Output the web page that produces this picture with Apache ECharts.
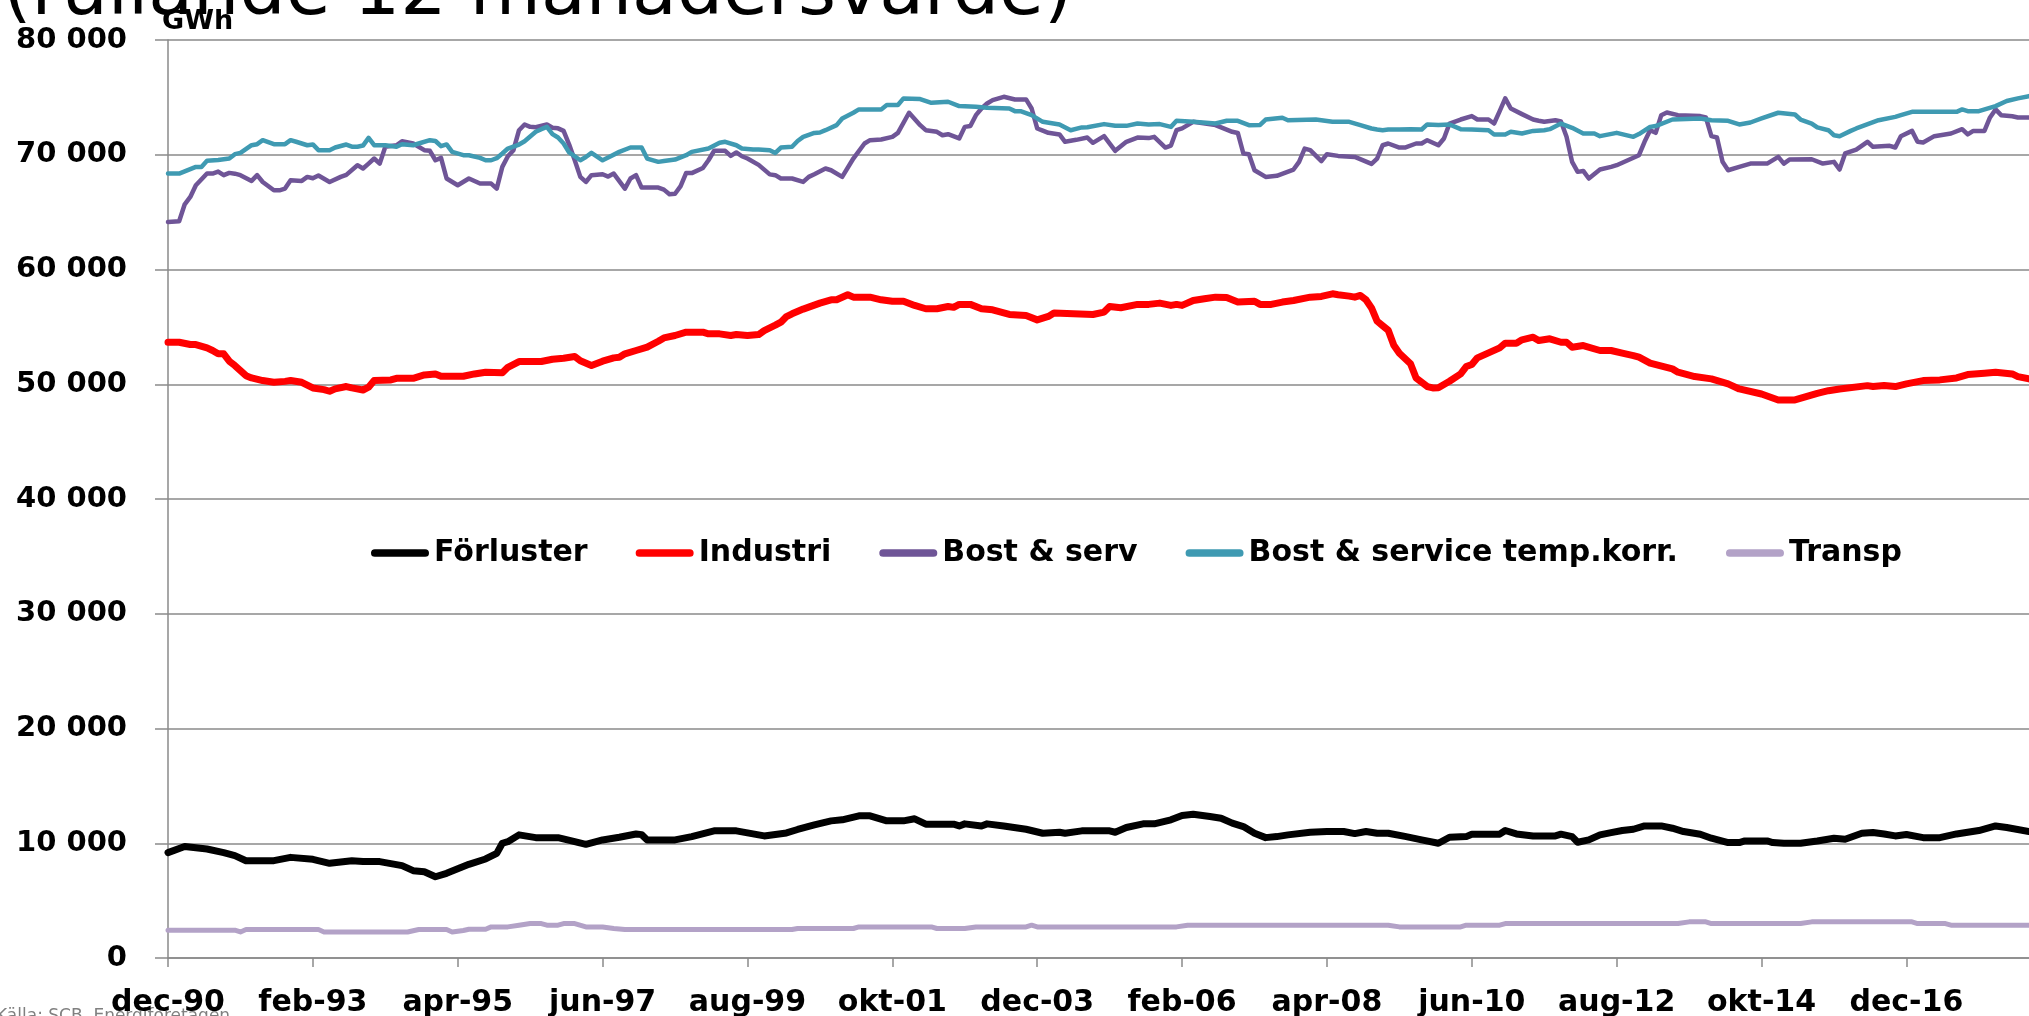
<!DOCTYPE html>
<html>
<head>
<meta charset="utf-8">
<script src="https://cdn.jsdelivr.net/npm/echarts@6.0.0/dist/echarts.min.js"></script>
<style>
    html, body { margin: 0; padding: 0; background: #fff; }
    #chart { width: 2029px; height: 1016px; }
</style>
</head>
<body>
<div id="chart"></div>
<script>
// monthly categories, dec-90 .. okt-18
const monthNames = ['jan', 'feb', 'mar', 'apr', 'maj', 'jun', 'jul', 'aug', 'sep', 'okt', 'nov', 'dec'];
const firstYear  = 1990;
const firstMonth = 11;   // december
const monthCount = 335;

const categories = [];
for (let i = 0; i < monthCount; i++) {
    const m = firstMonth + i;
    const y = firstYear + Math.floor(m / 12);
    categories.push(monthNames[m % 12] + '-' + String(y % 100).padStart(2, '0'));
}

const seriesNames = ['Förluster', 'Industri', 'Bost & serv', 'Bost & service temp.korr.', 'Transp'];
const yTicks      = [0, 10000, 20000, 30000, 40000, 50000, 60000, 70000, 80000];

// [month index, GWh]
const forluster = [
    [0,9180],[3,9710],[7,9500],[10,9180],[12,8920],[14,8480],[19,8480],[22,8770],[26,8600],[29,8250],
    [33,8480],[35,8400],[38,8400],[42,8050],[44,7610],[46,7520],[48,7080],[50,7380],[54,8160],[57,8630],
    [59,9120],[60,10000],[61,10140],[63,10730],[66,10490],[70,10490],[73,10140],[75,9910],[78,10290],[81,10520],
    [84,10810],[85,10750],[86,10290],[91,10290],[94,10580],[98,11080],[102,11080],[107,10640],[111,10900],[113,11200],
    [116,11600],[119,11950],[121,12040],[124,12390],[126,12390],[129,11950],[132,11950],[134,12130],[136,11660],[141,11660],
    [142,11510],[143,11690],[146,11510],[147,11690],[150,11510],[154,11220],[157,10870],[160,10960],[161,10870],[164,11080],
    [169,11080],[170,10960],[172,11370],[175,11690],[177,11690],[180,12040],[182,12420],[184,12530],[187,12330],[189,12180],
    [191,11750],[193,11450],[195,10870],[197,10490],[199,10580],[201,10730],[205,10960],[208,11020],[211,11020],[213,10840],
    [215,11020],[217,10870],[219,10870],[222,10600],[225,10300],[228,10000],[230,10520],[233,10580],[234,10790],[239,10790],
    [240,11110],[242,10810],[245,10640],[249,10640],[250,10790],[252,10580],[253,10090],[255,10290],[257,10730],[259,10930],
    [261,11110],[263,11220],[265,11510],[268,11510],[270,11310],[272,11020],[275,10790],[277,10440],[280,10060],[282,10060],
    [283,10200],[287,10200],[288,10060],[290,10000],[293,10000],[296,10200],[299,10440],[301,10350],[304,10870],[306,10930],
    [308,10810],[310,10640],[312,10760],[315,10490],[318,10490],[321,10810],[325,11110],[328,11510],[330,11370],[334,11020]
];

const industri = [
    [0,53660],[2,53660],[4,53460],[5,53460],[7,53170],[8,52940],[9,52650],[10,52650],[11,52010],[12,51630],
    [14,50750],[15,50550],[17,50320],[19,50170],[21,50250],[22,50320],[24,50170],[26,49680],[28,49530],[29,49390],
    [30,49600],[32,49800],[33,49680],[35,49500],[36,49740],[37,50320],[40,50380],[41,50520],[44,50520],[46,50810],
    [48,50900],[49,50700],[53,50700],[55,50900],[57,51050],[60,51000],[61,51480],[63,51980],[67,51980],[69,52180],
    [71,52270],[73,52420],[74,52040],[76,51630],[78,52010],[80,52300],[81,52350],[82,52650],[84,52940],[86,53230],
    [88,53750],[89,54040],[91,54250],[93,54540],[96,54540],[97,54390],[99,54390],[101,54250],[102,54330],[104,54250],
    [106,54330],[107,54680],[109,55150],[110,55410],[111,55900],[112,56140],[114,56550],[115,56720],[117,57070],[119,57360],
    [120,57360],[122,57800],[123,57590],[126,57590],[128,57360],[130,57240],[132,57240],[134,56870],[136,56580],[138,56580],
    [140,56780],[141,56700],[142,56960],[144,56960],[146,56580],[148,56490],[151,56080],[154,55990],[156,55610],[158,55910],
    [159,56200],[166,56080],[168,56290],[169,56780],[171,56670],[174,56960],[176,56960],[178,57070],[180,56870],[181,56960],
    [182,56870],[184,57300],[186,57450],[188,57590],[190,57550],[192,57160],[195,57240],[196,56960],[198,56960],[200,57160],
    [202,57300],[205,57590],[207,57650],[209,57880],[210,57800],[212,57680],[213,57590],[214,57740],[215,57360],[216,56650],
    [217,55500],[218,55100],[219,54700],[220,53400],[221,52700],[223,51780],[224,50550],[226,49800],[227,49680],[228,49700],
    [230,50260],[232,50900],[233,51540],[234,51720],[235,52300],[237,52730],[239,53170],[240,53580],[242,53580],[243,53870],
    [245,54100],[246,53810],[248,53960],[250,53660],[251,53660],[252,53230],[254,53370],[257,52940],[259,52940],[261,52710],
    [263,52500],[264,52360],[266,51840],[270,51340],[271,51050],[274,50670],[277,50470],[280,50030],[282,49590],[286,49150],
    [289,48630],[292,48630],[294,48920],[296,49210],[298,49440],[300,49590],[305,49880],[306,49800],[308,49900],[310,49800],
    [312,50030],[315,50320],[318,50380],[321,50550],[323,50840],[326,50960],[328,51050],[331,50900],[332,50670],[334,50470]
];

const bostServ = [
    [0,64140],[2,64200],[3,65680],[4,66320],[5,67340],[7,68360],[8,68360],[9,68530],[10,68220],[11,68420],
    [12,68350],[13,68220],[15,67720],[16,68220],[17,67630],[19,66900],[20,66900],[21,67050],[22,67780],[24,67720],
    [25,68070],[26,67950],[27,68190],[29,67630],[31,68070],[32,68250],[34,69090],[35,68800],[36,69230],[37,69670],
    [38,69230],[39,70690],[41,70830],[42,71180],[44,70980],[46,70400],[47,70340],[48,69520],[49,69730],[50,67930],
    [52,67340],[54,67930],[56,67490],[58,67490],[59,67050],[60,68940],[61,69870],[62,70400],[63,72140],[64,72640],
    [65,72430],[66,72400],[68,72640],[69,72350],[70,72300],[71,72080],[72,70890],[73,69520],[74,68070],[75,67630],
    [76,68220],[78,68300],[79,68100],[80,68360],[82,67050],[83,67930],[84,68220],[85,67140],[88,67140],[89,66960],
    [90,66560],[91,66600],[92,67260],[93,68420],[94,68400],[96,68850],[97,69520],[98,70340],[100,70340],[101,69900],
    [102,70200],[103,69870],[104,69670],[106,69120],[108,68290],[109,68220],[110,67930],[112,67930],[114,67630],[115,68070],
    [116,68300],[118,68800],[119,68650],[121,68070],[123,69670],[125,70980],[126,71270],[128,71330],[130,71560],[131,71910],
    [133,73660],[135,72580],[136,72140],[138,72000],[139,71700],[140,71790],[142,71420],[143,72430],[144,72500],[145,73450],
    [146,74030],[147,74470],[148,74760],[150,75050],[152,74820],[154,74820],[155,74030],[156,72290],[157,72100],[158,71910],
    [160,71770],[161,71130],[163,71300],[165,71500],[166,71040],[168,71620],[170,70340],[172,71130],[174,71500],[176,71450],
    [177,71560],[179,70630],[180,70800],[181,72140],[182,72300],[184,72870],[188,72580],[191,72000],[192,71900],[193,70110],
    [194,70050],[195,68650],[197,68070],[199,68160],[202,68710],[203,69380],[204,70540],[205,70400],[207,69440],[208,70050],
    [210,69900],[213,69810],[216,69200],[217,69670],[218,70830],[219,70980],[221,70630],[222,70630],[224,70980],[225,70980],
    [226,71270],[228,70830],[229,71420],[230,72720],[232,73070],[234,73370],[235,73070],[237,73070],[238,72720],[239,73800],
    [240,74910],[241,74030],[243,73540],[245,73070],[246,72960],[247,72870],[249,73010],[250,72900],[251,71560],[252,69380],
    [253,68510],[254,68590],[255,67930],[257,68710],[259,68940],[260,69090],[262,69520],[264,69960],[265,71130],[266,72140],
    [267,71910],[268,73450],[269,73680],[271,73450],[275,73370],[276,73250],[277,71620],[278,71500],[279,69380],[280,68650],
    [282,68940],[284,69230],[287,69230],[289,69810],[290,69230],[291,69580],[295,69610],[297,69230],[299,69380],[300,68710],
    [301,70110],[303,70450],[305,71130],[306,70690],[309,70780],[310,70630],[311,71620],[313,72080],[314,71130],[315,71070],
    [317,71620],[320,71850],[322,72230],[323,71770],[324,72080],[326,72080],[327,73250],[328,73950],[329,73450],[331,73350],
    [332,73250],[334,73250]
];

const bostServTemp = [
    [0,68360],[2,68360],[5,68940],[6,68940],[7,69470],[9,69550],[11,69670],[12,70050],[13,70160],[15,70830],
    [16,70920],[17,71270],[19,70920],[21,70920],[22,71270],[23,71130],[25,70830],[26,70900],[27,70400],[29,70400],
    [30,70630],[32,70890],[33,70700],[34,70700],[35,70800],[36,71470],[37,70830],[39,70830],[41,70690],[42,70920],
    [44,70830],[45,70980],[47,71270],[48,71200],[49,70750],[50,70900],[51,70250],[53,69960],[54,69960],[56,69730],
    [57,69520],[58,69520],[59,69700],[60,70110],[61,70540],[63,70890],[64,71180],[66,72000],[67,72230],[68,72430],
    [69,71800],[70,71500],[71,70980],[72,70200],[74,69520],[75,69800],[76,70160],[78,69520],[79,69760],[81,70250],
    [83,70630],[85,70630],[86,69670],[88,69380],[89,69450],[91,69580],[93,69960],[94,70250],[97,70540],[99,71040],
    [100,71130],[102,70830],[103,70540],[105,70450],[106,70450],[108,70400],[109,70160],[110,70630],[112,70700],[113,71200],
    [114,71560],[116,71900],[117,71940],[118,72140],[120,72580],[121,73160],[123,73660],[124,73950],[128,73950],[129,74330],
    [131,74330],[132,74910],[135,74850],[137,74530],[140,74620],[142,74240],[145,74180],[147,74100],[151,74030],[152,73800],
    [153,73800],[155,73450],[157,72870],[160,72640],[162,72140],[164,72380],[165,72400],[168,72670],[170,72520],[172,72520],
    [174,72720],[176,72640],[178,72670],[180,72430],[181,72960],[184,72870],[188,72720],[190,72960],[192,72960],[194,72580],
    [196,72600],[197,73070],[200,73220],[201,73010],[206,73070],[209,72870],[212,72870],[214,72580],[216,72290],[217,72200],
    [218,72140],[219,72200],[221,72200],[223,72230],[225,72200],[226,72640],[228,72600],[230,72640],[232,72230],[234,72200],
    [237,72140],[238,71770],[240,71770],[241,72000],[243,71850],[245,72080],[247,72140],[248,72230],[250,72720],[252,72350],
    [254,71850],[256,71850],[257,71620],[260,71910],[263,71560],[264,71800],[266,72430],[267,72500],[270,73070],[275,73160],
    [277,73010],[280,72960],[282,72640],[284,72810],[286,73160],[289,73660],[292,73510],[293,73070],[295,72720],[296,72380],
    [298,72140],[299,71700],[300,71620],[302,72080],[303,72290],[307,73010],[310,73300],[311,73450],[313,73740],[321,73740],
    [322,73950],[323,73800],[325,73800],[328,74240],[330,74680],[332,74910],[334,75110]
];

const transp = [
    [0,2420],[12,2420],[13,2270],[14,2480],[27,2480],[28,2270],[43,2270],[45,2480],[50,2480],[51,2270],
    [53,2400],[54,2510],[57,2510],[58,2710],[61,2710],[63,2860],[65,3000],[67,3000],[68,2860],[70,2860],
    [71,3000],[73,3000],[75,2710],[78,2710],[80,2570],[82,2480],[112,2480],[113,2570],[123,2570],[124,2710],
    [137,2710],[138,2570],[143,2570],[145,2710],[154,2710],[155,2860],[156,2710],[181,2710],[183,2860],[219,2860],
    [221,2710],[232,2710],[233,2860],[239,2860],[240,3000],[271,3000],[273,3150],[276,3150],[277,3000],[293,3000],
    [295,3150],[313,3150],[314,3000],[319,3000],[320,2860],[334,2860]
];

const seriesData   = [forluster, industri, bostServ, bostServTemp, transp];
const seriesColors = ['#000000', '#ff0000', '#6f5597', '#3f9ab2', '#b3a2c7'];
const seriesWidths = [7, 7, 4.5, 4.5, 5];

const FONT = "'DejaVu Sans', 'Liberation Sans', sans-serif";
const capsule = 'path://M4,0 L56,0 A4,4 0 0 1 56,8 L4,8 A4,4 0 0 1 4,0 Z';

const chart = echarts.init(document.getElementById('chart'), null, { renderer: 'canvas' });

chart.setOption({
    animation: false,
    backgroundColor: '#ffffff',
    title: {
        text: '(rullande 12 månadersvärde)',
        left: -2,
        top: -46,
        z: 0,
        textStyle: { fontFamily: FONT, fontWeight: 'normal', fontSize: 73, color: '#000' },
    },
    graphic: [{
        type: 'text',
        left: -4,
        top: 1008,
        style: { text: 'Källa: SCB, Energiföretagen', fontFamily: FONT, fontSize: 17, fill: '#808080' },
    }],
    legend: {
        data: seriesNames,
        left: 366,
        top: 531,
        itemGap: 48,
        itemWidth: 58,
        itemHeight: 8,
        icon: capsule,
        textStyle: { fontFamily: FONT, fontWeight: 'bold', fontSize: 30, color: '#000', lineHeight: 34 },
    },
    grid: { left: 168, right: 0, top: 40, bottom: 58, containLabel: false, outerBoundsMode: 'none' },
    xAxis: {
        type: 'category',
        data: categories,
        boundaryGap: false,
        axisLine: { lineStyle: { color: '#8a8a8a', width: 1.5 } },
        axisTick: { show: true, interval: 25, length: 9, lineStyle: { color: '#8a8a8a', width: 1.5 } },
        axisLabel: {
            interval: 25,
            margin: 30,
            fontFamily: FONT, fontWeight: 'bold', fontSize: 30, color: '#000',
        },
        splitLine: { show: false },
    },
    yAxis: {
        type: 'value',
        z: 8,
        min: yTicks[0],
        max: yTicks[yTicks.length - 1],
        interval: yTicks[1] - yTicks[0],
        name: 'GWh',
        nameLocation: 'end',
        nameGap: 18,
        nameTextStyle: { fontFamily: FONT, fontWeight: 'bold', fontSize: 27, color: '#000', align: 'left', verticalAlign: 'middle', padding: [0, 0, 0, -6] },
        axisLine: { show: true, lineStyle: { color: '#8a8a8a', width: 1.5 } },
        axisTick: { show: true, length: 13, lineStyle: { color: '#8a8a8a', width: 1.5 } },
        axisLabel: {
            margin: 41,
            fontFamily: FONT, fontWeight: 'bold', fontSize: 29, color: '#000',
            formatter: v => String(v).replace(/\B(?=(\d{3})+(?!\d))/g, ' '),
        },
        splitLine: { show: true, lineStyle: { color: '#8a8a8a', width: 1.5 } },
    },
    series: seriesNames.map((name, i) => ({
        name,
        type: 'line',
        z: 10,
        data: seriesData[i],
        symbol: 'none',
        showSymbol: false,
        color: seriesColors[i],
        lineStyle: { color: seriesColors[i], width: seriesWidths[i], cap: 'round', join: 'round' },
        emphasis: { disabled: true },
    })),
});
</script>
</body>
</html>
